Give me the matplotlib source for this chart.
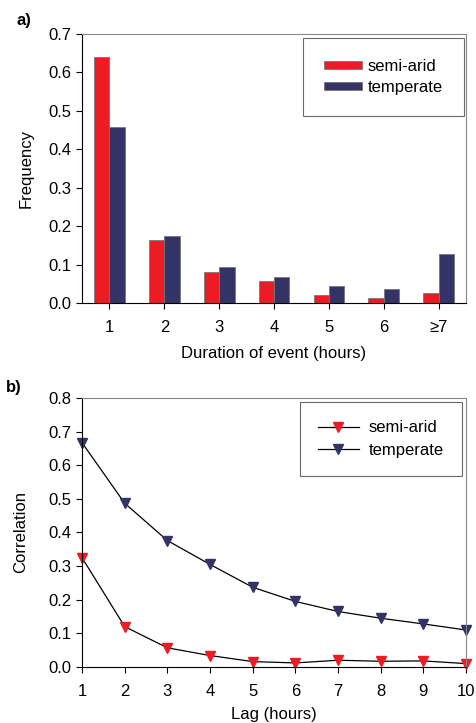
import numpy as np
import matplotlib.pyplot as plt

plt.rcParams['font.family'] = ['Liberation Sans', 'DejaVu Sans']

# data
durations = ['1', '2', '3', '4', '5', '6', '\u22657']
freq_semiarid = [0.640, 0.165, 0.080, 0.056, 0.021, 0.012, 0.027]
freq_temperate = [0.457, 0.175, 0.094, 0.068, 0.043, 0.036, 0.127]

lags = [1, 2, 3, 4, 5, 6, 7, 8, 9, 10]
corr_semiarid = [0.325, 0.120, 0.057, 0.034, 0.016, 0.012, 0.020, 0.017, 0.018, 0.010]
corr_temperate = [0.667, 0.487, 0.376, 0.305, 0.237, 0.195, 0.165, 0.145, 0.128, 0.110]

red = '#ed1c24'
navy = '#333366'

fig = plt.figure(figsize=(4.77, 7.23), dpi=100)

def style(ax):
    for s in ['top', 'right']:
        ax.spines[s].set_color('#888888')
    ax.tick_params(labelsize=12, direction='out', length=4, width=0.8)
    ax.tick_params(axis='x', pad=8)
    ax.tick_params(top=False, right=False)

#==============================================================================
# a) bar chart
ax1 = fig.add_axes([0.172, 0.581, 0.805, 0.372])
x = np.arange(1, len(durations) + 1)
w = 0.28
ax1.bar(x - w / 2, freq_semiarid, w, color=red, edgecolor='#777777', linewidth=0.6, label='semi-arid')
ax1.bar(x + w / 2, freq_temperate, w, color=navy, edgecolor='#777777', linewidth=0.6, label='temperate')
ax1.set_xlim(0.5, 7.5)
ax1.set_ylim(0, 0.7)
ax1.set_xticks(x)
ax1.set_xticklabels(durations)
ax1.set_yticks(np.arange(0, 0.71, 0.1))
ax1.set_yticklabels(['%.1f' % v for v in np.arange(0, 0.71, 0.1)])
ax1.set_xlabel('Duration of event (hours)', fontsize=12, labelpad=8)
ax1.set_ylabel('Frequency', fontsize=12, labelpad=11)
style(ax1)
leg1 = ax1.legend(loc='upper right', bbox_to_anchor=(0.994, 0.985), fontsize=12, frameon=True,
                  fancybox=False, edgecolor='#444444', borderpad=1.25, handlelength=2.3,
                  handleheight=0.35, handletextpad=0.35, labelspacing=0.38, borderaxespad=0)
leg1.get_frame().set_linewidth(0.8)
fig.text(0.035, 0.972, 'a)', fontsize=12, fontweight='bold', va='center')

#==============================================================================
# b) line chart
ax2 = fig.add_axes([0.172, 0.0775, 0.805, 0.372])
ax2.plot(lags, corr_semiarid, color='black', linewidth=0.9, marker='v', markersize=7.5,
         markerfacecolor=red, markeredgecolor=red, clip_on=False, label='semi-arid')
ax2.plot(lags, corr_temperate, color='black', linewidth=0.9, marker='v', markersize=7.5,
         markerfacecolor=navy, markeredgecolor=navy, clip_on=False, label='temperate')
ax2.set_xlim(1, 10)
ax2.set_ylim(0, 0.8)
ax2.set_xticks(lags)
ax2.set_yticks(np.arange(0, 0.81, 0.1))
ax2.set_yticklabels(['%.1f' % v for v in np.arange(0, 0.81, 0.1)])
ax2.set_xlabel('Lag (hours)', fontsize=12, labelpad=6)
ax2.set_ylabel('Correlation', fontsize=12, labelpad=15)
style(ax2)
leg2 = ax2.legend(loc='upper right', bbox_to_anchor=(0.99, 0.985), fontsize=12, frameon=True,
                  fancybox=False, edgecolor='#444444', borderpad=1.1, handlelength=2.45,
                  handletextpad=0.6, labelspacing=0.45, borderaxespad=0)
leg2.get_frame().set_linewidth(0.8)
fig.text(0.013, 0.4647, 'b)', fontsize=12, fontweight='bold', va='center')

fig.savefig('out.png', dpi=100)
